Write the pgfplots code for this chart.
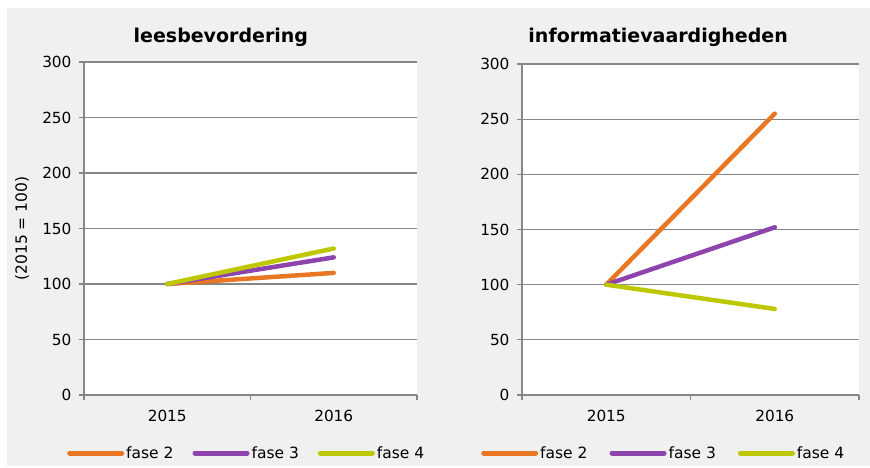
\documentclass[border=0pt]{standalone}
\usepackage{fontspec}
\setmainfont{DejaVu Sans}
\usepackage{pgfplots}
\pgfplotsset{compat=1.18}
\definecolor{bg}{RGB}{240,240,240}
\definecolor{grd}{RGB}{134,134,134}
\definecolor{c2}{RGB}{232,118,34}
\definecolor{c3}{RGB}{142,68,173}
\definecolor{c4}{RGB}{190,200,0}
\pgfplotsset{
  panel/.style={
    scale only axis,
    axis background/.style={fill=white},
    xmin=-0.5, xmax=1.5, ymin=0, ymax=300,
    ytick={0,50,...,300},
    xtick={-0.5,0.5,1.5}, xticklabels={,,},
    extra x ticks={0,1}, extra x tick labels={2015,2016},
    extra x tick style={major tick length=0pt},
    ymajorgrids, grid style={grd, line width=1.2pt},
    axis x line*=bottom, axis y line*=left,
    axis line style={grd, line width=1.2pt, -},
    tick align=outside, major tick length=5pt,
    tick style={grd, line width=1.2pt},
    tick label style={font=\fontsize{15.3}{17}\selectfont, text=black},
    xticklabel style={yshift=-12pt},
    yticklabel style={xshift=-4pt},
    /pgf/number format/assume math mode=true,
    title style={font=\bfseries\fontsize{19}{21}\selectfont, anchor=base},
    legend columns=3,
    legend style={draw=none, fill=none, font=\fontsize{15.5}{17}\selectfont,
      at={(axis description cs:0,0)}, anchor=west, yshift=-58pt},
    legend image code/.code={\draw[#1, line width=5pt, line cap=round] (0pt,0pt) -- (52pt,0pt);},
    every axis plot/.append style={line width=4.5pt, line cap=round, line join=round},
  }
}
\begin{document}
\begin{tikzpicture}
\useasboundingbox (0pt,0pt) rectangle (870pt,467pt);
\fill[bg] (7pt,1pt) rectangle (870pt,459pt);
\begin{axis}[panel, at={(84pt,72pt)}, anchor=south west, width=333pt, height=333pt,
  title={leesbevordering}, title style={at={(rel axis cs:0.411,1)}, yshift=14pt},
  ylabel={(2015 = 100)},
  ylabel style={font=\fontsize{15.5}{17}\selectfont, at={(axis description cs:-0.186,0.5)}, anchor=center},
  legend style={xshift=-20pt, /tikz/every even column/.append style={column sep=17pt}}]
\addplot[c2] coordinates {(0,100) (1,110)};
\addplot[c3] coordinates {(0,100) (1,124)};
\addplot[c4] coordinates {(0,100) (1,132)};
\legend{fase 2, fase 3, fase 4}
\end{axis}
\begin{axis}[panel, at={(522pt,72pt)}, anchor=south west, width=337pt, height=331pt,
  title={informatievaardigheden}, title style={at={(rel axis cs:0.404,1)}, yshift=16pt},
  legend style={xshift=-44pt, /tikz/every even column/.append style={column sep=20pt}}]
\addplot[c2] coordinates {(0,100) (1,255)};
\addplot[c3] coordinates {(0,100) (1,152)};
\addplot[c4] coordinates {(0,100) (1,78)};
\legend{fase 2, fase 3, fase 4}
\end{axis}
\end{tikzpicture}
\end{document}
